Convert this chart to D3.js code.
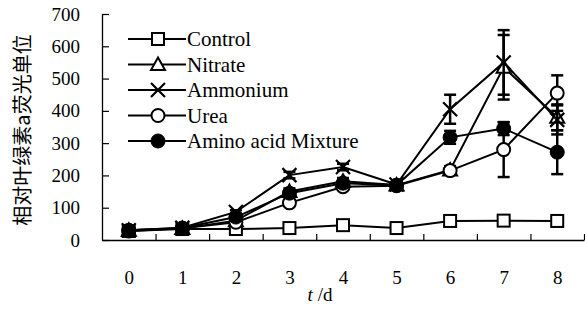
<!DOCTYPE html>
<html>
<head>
<meta charset="utf-8">
<script src="https://cdn.jsdelivr.net/npm/d3@7"></script>
</head>
<body style="margin:0">
<script>
// days and series
var days = [0, 1, 2, 3, 4, 5, 6, 7, 8];
var yTicks = [0, 100, 200, 300, 400, 500, 600, 700];

var control = [28, 34, 34, 37, 46, 37, 59, 60, 59];
var controlErr = [3, 3, 3, 3, 4, 3, 5, 5, 5];
var nitrate = [30, 36, 60, 150, 182, 170, 217, 535, 380];
var nitrateErr = [3, 3, 5, 10, 10, 8, 12, 100, 40];
var ammonium = [30, 38, 87, 201, 226, 172, 405, 550, 372];
var ammoniumErr = [3, 3, 5, 10, 10, 8, 45, 100, 45];
var urea = [28, 36, 55, 115, 165, 168, 215, 280, 455];
var ureaErr = [3, 3, 5, 10, 8, 8, 10, 85, 55];
var amino = [30, 37, 71, 145, 176, 170, 318, 345, 272];
var aminoErr = [3, 3, 5, 10, 8, 8, 20, 20, 68];

var seriesNames = ["Control", "Nitrate", "Ammonium", "Urea", "Amino acid Mixture"];
var seriesMarks = ["square", "triangle", "cross", "circle", "dot"];

var series = [
    { name: seriesNames[0], mark: seriesMarks[0], values: control, err: controlErr },
    { name: seriesNames[1], mark: seriesMarks[1], values: nitrate, err: nitrateErr },
    { name: seriesNames[2], mark: seriesMarks[2], values: ammonium, err: ammoniumErr },
    { name: seriesNames[3], mark: seriesMarks[3], values: urea, err: ureaErr },
    { name: seriesNames[4], mark: seriesMarks[4], values: amino, err: aminoErr }
];

var SERIF = "Liberation Serif";

var width = 585, height = 320;
var margin = { left: 102, right: 1, top: 14, bottom: 80 };

var svg = d3.select("body").append("svg")
    .attr("width", width)
    .attr("height", height);

// x: days sit in the middle of each interval, ticks on the boundaries
var x = d3.scaleLinear().domain([-0.5, 8.5]).range([margin.left, width - margin.right]);
var y = d3.scaleLinear().domain([0, 700]).range([height - margin.bottom, margin.top]);

// y axis
var yAxis = svg.append("g")
    .attr("transform", "translate(" + margin.left + ",0)")
    .call(d3.axisLeft(y).tickValues(yTicks).tickSizeInner(-7).tickSizeOuter(0).tickPadding(22))
    .attr("font-family", SERIF)
    .attr("font-size", 19);
yAxis.select(".domain").attr("stroke-width", 1.3);
yAxis.selectAll(".tick line").attr("stroke-width", 1.2);

// x axis ticks (boundaries)
var xAxis = svg.append("g")
    .attr("transform", "translate(0," + y(0) + ")")
    .call(d3.axisBottom(x).tickValues(d3.range(0.5, 9, 1)).tickFormat("").tickSizeInner(-6).tickSizeOuter(0));
xAxis.select(".domain").attr("stroke-width", 1.3);
xAxis.selectAll(".tick line").attr("stroke-width", 1.2);

// x labels
var xLab = svg.append("g")
    .attr("transform", "translate(0," + y(0) + ")")
    .call(d3.axisBottom(x).tickValues(days).tickSize(0).tickPadding(31))
    .attr("font-family", SERIF)
    .attr("font-size", 19);
xLab.select(".domain").remove();

// axis titles
var xt = svg.append("text")
    .attr("x", 320)
    .attr("y", 301)
    .attr("text-anchor", "middle")
    .attr("font-family", SERIF)
    .attr("font-size", 19);
xt.append("tspan").attr("font-style", "italic").text("t");
xt.append("tspan").text(" /d");

svg.append("text")
    .attr("transform", "translate(30,130) rotate(-90)")
    .attr("text-anchor", "middle")
    .attr("font-family", "Noto Sans CJK SC")
    .attr("font-size", 20)
    .text("相对叶绿素a荧光单位");

function drawMark(g, mark) {
    if (mark == "square") {
        g.append("rect").attr("x", -6).attr("y", -6).attr("width", 12).attr("height", 12)
            .attr("fill", "#fff").attr("stroke", "#000").attr("stroke-width", 2);
    } else if (mark == "triangle") {
        g.append("path").attr("d", "M0,-7L7,5.5L-7,5.5Z")
            .attr("fill", "#fff").attr("stroke", "#000").attr("stroke-width", 2);
    } else if (mark == "cross") {
        g.append("path").attr("d", "M-7,-7L7,7M-7,7L7,-7")
            .attr("fill", "none").attr("stroke", "#000").attr("stroke-width", 2.2);
    } else if (mark == "circle") {
        g.append("circle").attr("r", 6.5)
            .attr("fill", "#fff").attr("stroke", "#000").attr("stroke-width", 2);
    } else {
        g.append("circle").attr("r", 7)
            .attr("fill", "#000").attr("stroke", "#000").attr("stroke-width", 1);
    }
}

var line = d3.line()
    .x(function (d, i) { return x(days[i]); })
    .y(function (d) { return y(d); });

series.forEach(function (s) {
    var g = svg.append("g");

    // error bars
    s.values.forEach(function (v, i) {
        var cx = x(days[i]);
        g.append("line").attr("x1", cx).attr("x2", cx)
            .attr("y1", y(v - s.err[i])).attr("y2", y(v + s.err[i]))
            .attr("stroke", "#000").attr("stroke-width", 2.5);
        [v - s.err[i], v + s.err[i]].forEach(function (e) {
            g.append("line").attr("x1", cx - 6).attr("x2", cx + 6)
                .attr("y1", y(e)).attr("y2", y(e))
                .attr("stroke", "#000").attr("stroke-width", 2.5);
        });
    });

    g.append("path")
        .datum(s.values)
        .attr("d", line)
        .attr("fill", "none")
        .attr("stroke", "#000")
        .attr("stroke-width", 2);

    s.values.forEach(function (v, i) {
        var m = g.append("g").attr("transform", "translate(" + x(days[i]) + "," + y(v) + ")");
        drawMark(m, s.mark);
    });
});

// legend
var legend = svg.append("g");
series.forEach(function (s, i) {
    var ly = 39 + i * 25.5;
    legend.append("line")
        .attr("x1", 128).attr("x2", 186)
        .attr("y1", ly).attr("y2", ly)
        .attr("stroke", "#000").attr("stroke-width", 2);
    var m = legend.append("g").attr("transform", "translate(158," + ly + ")");
    drawMark(m, s.mark);
    legend.append("text")
        .attr("x", 187)
        .attr("y", ly)
        .attr("dy", "0.35em")
        .attr("font-family", SERIF)
        .attr("font-size", 21)
        .text(s.name);
});
</script>
</body>
</html>
